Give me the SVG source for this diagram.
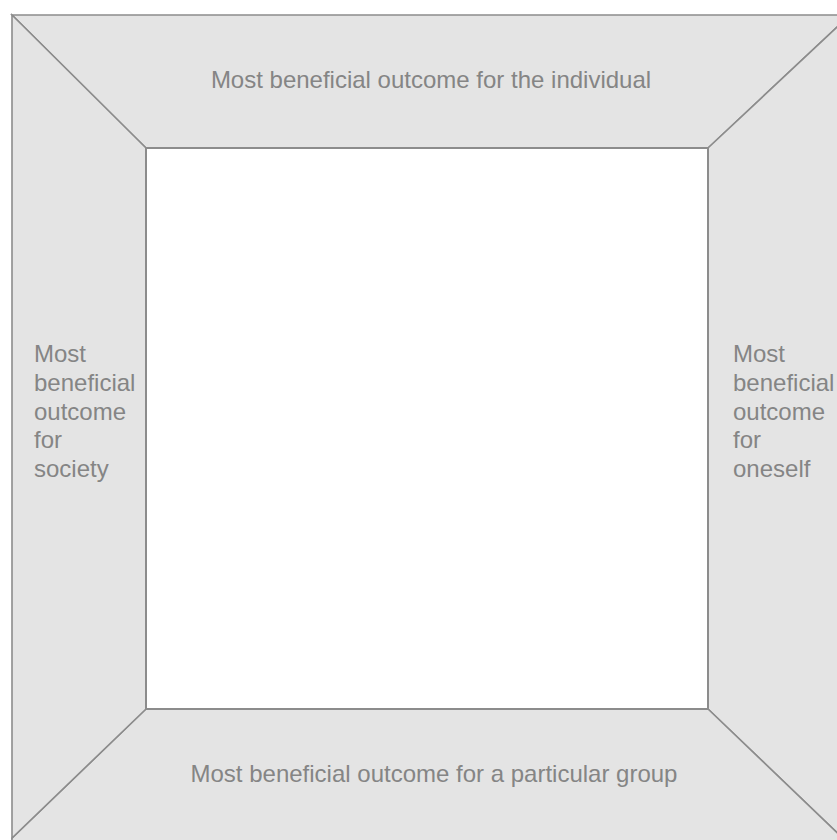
<svg xmlns="http://www.w3.org/2000/svg" width="837" height="840" viewBox="0 0 837 840">
  <style>
    .band { fill: #e4e4e4; stroke: #8c8c8c; stroke-width: 1.6; stroke-linejoin: miter; }
    .center { fill: #ffffff; stroke: #8c8c8c; stroke-width: 2; }
    .lbl { font-family: "Liberation Sans", Arial, sans-serif; font-size: 24px; fill: #858585; }
  </style>
  <rect x="0" y="0" width="837" height="840" fill="#ffffff"/>
  <g id="top-band">
    <polygon class="band" points="12,15 850,15 708,148 146,148"/>
    <text class="lbl" x="431" y="88" text-anchor="middle">Most beneficial outcome for the individual</text>
  </g>
  <g id="right-band">
    <polygon class="band" points="850,15 850,845 708,709 708,148"/>
    <text class="lbl" y="362">
      <tspan x="733" y="362">Most</tspan>
      <tspan x="733" y="391">beneficial</tspan>
      <tspan x="733" y="420">outcome</tspan>
      <tspan x="733" y="448">for</tspan>
      <tspan x="733" y="477">oneself</tspan>
    </text>
  </g>
  <g id="bottom-band">
    <polygon class="band" points="12,838 12,852 852,852 850,845 708,709 146,709"/>
    <text class="lbl" x="434" y="782" text-anchor="middle">Most beneficial outcome for a particular group</text>
  </g>
  <g id="left-band">
    <polygon class="band" points="12,15 146,148 146,709 12,838"/>
    <text class="lbl" y="362">
      <tspan x="34" y="362">Most</tspan>
      <tspan x="34" y="391">beneficial</tspan>
      <tspan x="34" y="420">outcome</tspan>
      <tspan x="34" y="448">for</tspan>
      <tspan x="34" y="477">society</tspan>
    </text>
  </g>
  <g id="center">
    <rect class="center" x="146" y="148" width="562" height="561"/>
  </g>
  <g id="connectors"/>
</svg>
